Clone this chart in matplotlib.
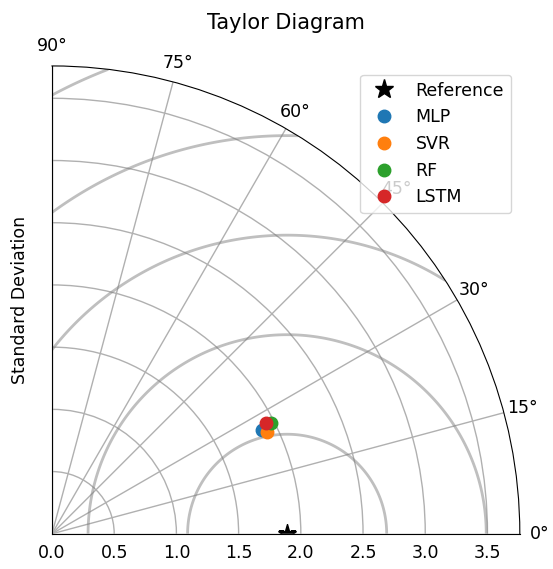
import matplotlib
matplotlib.use("Agg")
import matplotlib.pyplot as plt
import numpy as np

# reference std and model stats
ref_std = 1.89
models = ["MLP", "SVR", "RF", "LSTM"]
model_std = [1.88, 1.91, 1.97, 1.94]
model_corr = [0.896, 0.903, 0.893, 0.888]
model_colors = ["tab:blue", "tab:orange", "tab:green", "tab:red"]

rms_levels = [0.8, 1.6, 2.4, 3.2, 4.0]
std_ticks = [0.0, 0.5, 1.0, 1.5, 2.0, 2.5, 3.0, 3.5]
std_max = 3.76

plt.rcParams["font.size"] = 12.5
plt.rcParams["axes.titlesize"] = 15
plt.rcParams["grid.linewidth"] = 1.0

fig = plt.figure(figsize=(5.53, 5.69), dpi=100)
ax = fig.add_axes([0.094, 0.06, 0.846, 0.826], projection="polar")
ax.set_thetamin(0)
ax.set_thetamax(90)
ax.set_rlim(0, std_max)
ax.set_thetagrids(np.arange(0, 91, 15))
ax.set_rticks(std_ticks)

# RMS difference contours around the reference point
th = np.linspace(0, np.pi / 2, 300)
rr = np.linspace(0, std_max, 300)
TH, RR = np.meshgrid(th, rr)
rms = np.sqrt(ref_std**2 + RR**2 - 2 * ref_std * RR * np.cos(TH))
ax.contour(TH, RR, rms, levels=rms_levels, colors="0.5", alpha=0.5, linewidths=2)

ax.plot(0, ref_std, "k*", markersize=14, label="Reference")
for name, s, c, col in zip(models, model_std, model_corr, model_colors):
    ax.plot(np.arccos(c), s, "o", color=col, markersize=9, label=name)

ax.set_ylabel("Standard Deviation", labelpad=7)
ax.set_title("Taylor Diagram")
ax.legend(loc="upper right")

fig.savefig("out.png", dpi=100)
